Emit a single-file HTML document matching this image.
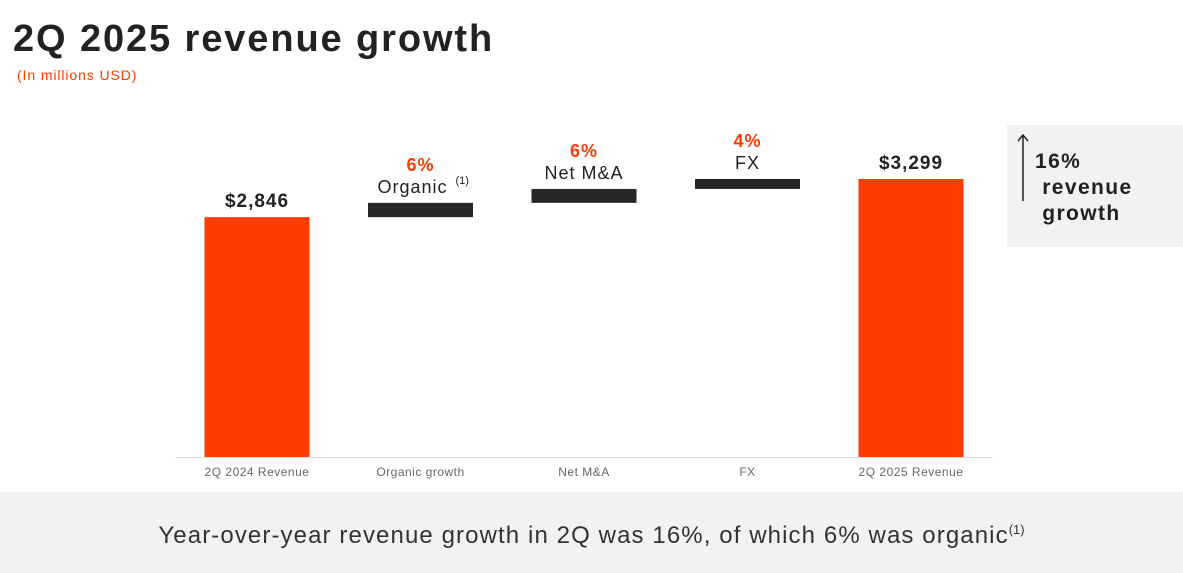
<!DOCTYPE html>
<html><head><meta charset="utf-8"><style>
body{margin:0;width:1183px;height:573px;background:#fff;font-family:"Liberation Sans",sans-serif;overflow:hidden;position:relative}
.t{position:absolute;white-space:nowrap}
</style></head><body>
<div class="t" style="left:13px;top:18px;font-size:38px;font-weight:bold;color:#222;letter-spacing:1.9px">2Q 2025 revenue growth</div>
<div class="t" style="left:17px;top:67px;font-size:14px;color:#ff3b00;letter-spacing:0.9px">(In millions USD)</div>
<div style="position:absolute;left:1007px;top:125px;width:176px;height:122px;background:#f2f2f2">
<svg style="position:absolute;left:10px;top:8px" width="12" height="70"><line x1="6" y1="3" x2="6" y2="68" stroke="#222" stroke-width="1.5"/><polyline points="1,8 6,2 11,8" fill="none" stroke="#222" stroke-width="1.5"/></svg>
<div class="t" style="left:28px;top:24px;font-size:21px;font-weight:bold;color:#222;line-height:26px;letter-spacing:1.4px">16%<br>&nbsp;revenue<br>&nbsp;growth</div>
</div>
<div style="position:absolute;left:0;top:492px;width:1183px;height:81px;background:#f2f2f2">
<div class="t" style="left:0;width:1183px;text-align:center;top:30px;font-size:24px;color:#333;letter-spacing:1.1px">Year-over-year revenue growth in 2Q was 16%, of which 6% was organic<sup style="font-size:13px;letter-spacing:0">(1)</sup></div>
</div>
<svg id="c" width="1183" height="492" style="position:absolute;left:0;top:0"></svg>
<script>
const categories=["2Q 2024 Revenue","Organic growth","Net M&A","FX","2Q 2025 Revenue"];
const deltas=[2846,170,165,118,3299];
const pctLabels=["","6%","6%","4%",""];
const stepNames=["","Organic","Net M&A","FX",""];
const valueLabels=["$2,846","","","","$3,299"];
const svg=document.getElementById('c');const NS="http://www.w3.org/2000/svg";
const base=457,scale=278/3299;
const y=v=>base-v*scale;
const cx=i=>257+i*163.5;
function mk(t,a){const e=document.createElementNS(NS,t);for(const k in a)e.setAttribute(k,a[k]);svg.appendChild(e);return e;}
const ax=mk('line',{x1:175,x2:993,y1:base+0.5,y2:base+0.5,stroke:'#ddd','stroke-width':1});


let run=0;
categories.forEach((c,i)=>{
 let top,bot,fill;
 if(i===0||i===categories.length-1){top=y(deltas[i]);bot=base;fill='#ff3b00';run=deltas[i];}
 else{bot=y(run);run+=deltas[i];top=y(run);fill='#262626';}
 const r=mk('rect',{x:cx(i)-52.5,y:top,width:105,height:bot-top,fill});
 
 
 const tl=mk('text',{x:cx(i),y:476,'text-anchor':'middle','font-size':12,fill:'#666','letter-spacing':0.5});tl.textContent=c;
 
 
 if(valueLabels[i]){const v=mk('text',{x:cx(i),y:top-10,'text-anchor':'middle','font-size':19,'font-weight':'bold',fill:'#222','letter-spacing':1});v.textContent=valueLabels[i];
 
 }
 if(stepNames[i]){
  const off=i===1?-8:0;
  const n=mk('text',{x:cx(i)+off,y:top-10,'text-anchor':'middle','font-size':18,fill:'#222','letter-spacing':1});n.textContent=stepNames[i];
  
  
  if(i===1){const s=mk('text',{x:cx(i)+35,y:top-19,'font-size':11,fill:'#222'});s.textContent='(1)';
  
  }
  const p=mk('text',{x:cx(i),y:top-32,'text-anchor':'middle','font-size':18,'font-weight':'bold',fill:'#ff3b00','letter-spacing':1});p.textContent=pctLabels[i];
  
  
 }
});
</script>
</body></html>
